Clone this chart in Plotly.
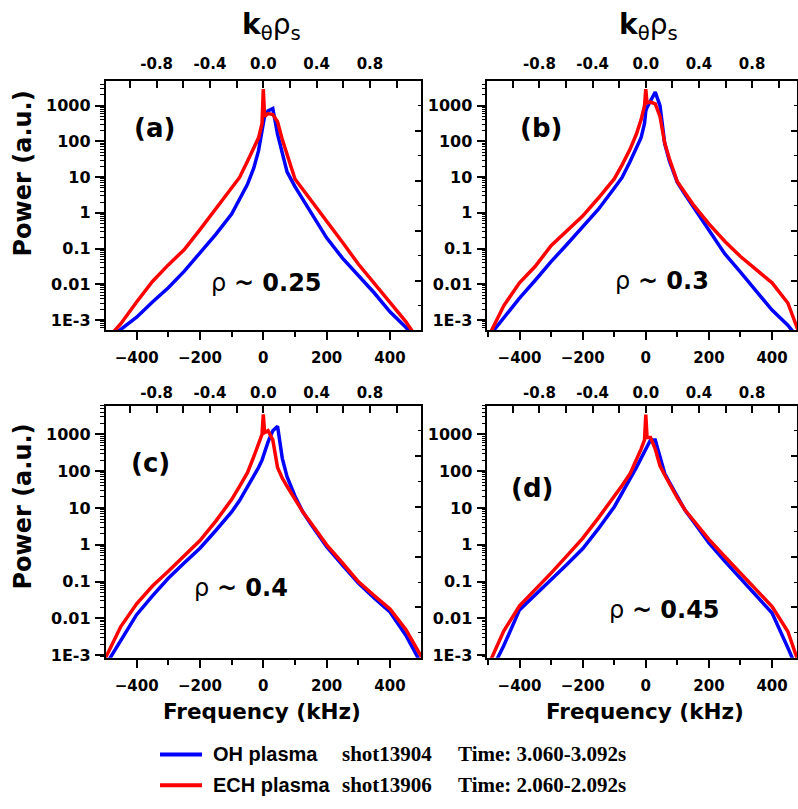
import plotly.graph_objects as go

# ---------------------------------------------------------------- data
FREQ_KHZ = [-500, -450, -400, -350, -300, -250, -200, -150, -100, -75, -50, -30, -15, -4, 0,
            4, 15, 30, 45, 60, 75, 100, 125, 150, 200, 250, 300, 350, 400, 450, 500]

# rho ~ 0.25
OH_A = [2.5e-4, 5.6e-4, 1.2e-3, 3.2e-3, 8.0e-3, 0.023, 0.075, 0.25, 0.93, 2.3, 6.3, 18, 55, 200, 350,
        500, 710, 830, 160, 42, 14, 5.4, 2.4, 1.1, 0.2, 0.054, 0.018, 5.8e-3, 1.7e-3, 6.3e-4, 2.0e-4]
ECH_A = [2.5e-4, 7.9e-4, 3.2e-3, 0.012, 0.035, 0.093, 0.34, 1.26, 4.9, 9.8, 28, 63, 126, 316, 2900,
         500, 600, 560, 355, 112, 45, 8.9, 4.5, 2.3, 0.58, 0.15, 0.037, 0.011, 3.2e-3, 9.1e-4, 2.0e-4]
# rho ~ 0.3
OH_B = [3.2e-4, 1.2e-3, 4.1e-3, 0.013, 0.043, 0.13, 0.4, 1.26, 4.9, 9.8, 27, 62, 126, 316, 710,
        890, 1400, 2400, 1000, 87, 28, 7.1, 3.2, 1.5, 0.32, 0.072, 0.022, 6.5e-3, 1.9e-3, 7.2e-4, 2.0e-4]
ECH_B = [3.2e-4, 2.5e-3, 0.011, 0.032, 0.12, 0.32, 0.81, 2.6, 8.9, 22, 60, 158, 400, 1000, 2900,
         1200, 1260, 1120, 500, 89, 32, 7.4, 3.5, 1.7, 0.49, 0.16, 0.06, 0.026, 0.011, 3.0e-3, 2.0e-4]
# rho ~ 0.4
OH_C = [5.0e-4, 2.5e-3, 0.0126, 0.041, 0.123, 0.32, 0.81, 2.45, 7.8, 16, 37, 74, 126, 200, 250,
        355, 630, 1260, 1660, 224, 71, 21, 7.8, 3.7, 0.89, 0.28, 0.091, 0.036, 0.015, 3.5e-3, 5.6e-4]
ECH_C = [7.9e-4, 6.0e-3, 0.025, 0.076, 0.19, 0.49, 1.3, 4.4, 17, 39, 91, 250, 560, 1000, 3500,
         1120, 1260, 710, 126, 65, 39, 17, 7.8, 4.0, 1.0, 0.32, 0.1, 0.042, 0.018, 5.0e-3, 8.9e-4]
# rho ~ 0.45
OH_D = [2.5e-4, 1.8e-3, 0.017, 0.043, 0.11, 0.29, 0.78, 2.75, 10.7, 25, 58, 126, 224, 355, 420,
        500, 710, 710, 224, 87, 50, 20, 8.5, 4.4, 1.12, 0.36, 0.12, 0.041, 0.014, 1.6e-3, 1.6e-4]
ECH_D = [5.0e-4, 4.5e-3, 0.022, 0.06, 0.17, 0.5, 1.5, 5.4, 20, 41, 85, 200, 400, 710, 3470,
         830, 830, 400, 141, 79, 45, 19, 8.7, 4.7, 1.41, 0.48, 0.17, 0.059, 0.021, 4.4e-3, 2.5e-4]

PANEL_TAGS = ["(a)", "(b)", "(c)", "(d)"]
RHO_VALUES = ["0.25", "0.3", "0.4", "0.45"]
FREQ_TICKS = [-400, -200, 0, 200, 400]
FREQ_MINOR = [-500, -300, -100, 100, 300, 500]
K_TICKS = [-0.8, -0.4, 0.0, 0.4, 0.8]
K_MINOR = [-1.0, -0.6, -0.2, 0.2, 0.6, 1.0]
POWER_TICKS = [1e-3, 0.01, 0.1, 1, 10, 100, 1000]
POWER_TICK_TEXT = ["1E-3", "0.01", "0.1", "1", "10", "100", "1000"]
KHZ_PER_K = 421.0  # frequency (kHz) corresponding to k_theta*rho_s = 1
LEGEND_ROWS = [
    ("OH plasma", "shot13904", "Time: 3.060-3.092s", "#0000FF"),
    ("ECH plasma", "shot13906", "Time: 2.060-2.092s", "#FF0000"),
]

OH_SERIES = [OH_A, OH_B, OH_C, OH_D]
ECH_SERIES = [ECH_A, ECH_B, ECH_C, ECH_D]

# ---------------------------------------------------------------- layout geometry (pixels)
W, H = 798, 809
PANELS = [
    dict(x0=105.6, x1=421.0, y0=81.7, y1=333.3, xr=[-498, 498], yr=[-3.29, 3.69],
         tag=(154, 129), rho=(266, 285), top_pad=4),
    dict(x0=487.3, x1=797.0, y0=81.7, y1=333.3, xr=[-502, 479], yr=[-3.29, 3.69],
         tag=(541, 129), rho=(662, 283), top_pad=4),
    dict(x0=105.6, x1=421.0, y0=409.3, y1=663.5, xr=[-498, 498], yr=[-3.07, 3.78],
         tag=(150, 467), rho=(241, 593), top_pad=0),
    dict(x0=487.3, x1=797.0, y0=409.3, y1=663.5, xr=[-502, 479], yr=[-3.07, 3.78],
         tag=(532, 492), rho=(664, 615), top_pad=0),
]


def px(x):
    return x / W


def py(y):
    return 1 - y / H


XTICKFONT = dict(family="DejaVu Sans", color="black", weight="bold", size=15)
YTICKFONT = dict(family="DejaVu Sans", color="black", weight="bold", size=16)
LINE_W = 1.6

minor_power = [m * 10.0 ** d for d in range(-4, 4) for m in range(2, 10)]

fig = go.Figure()
layout = {}
for i, p in enumerate(PANELS):
    n = i + 1
    sx = "" if n == 1 else str(n)
    # spectra
    fig.add_trace(go.Scatter(x=FREQ_KHZ, y=OH_SERIES[i], mode="lines",
                             line=dict(color="#0000FF", width=3.5),
                             xaxis=f"x{n}", yaxis=f"y{n}", showlegend=False))
    fig.add_trace(go.Scatter(x=FREQ_KHZ, y=ECH_SERIES[i], mode="lines",
                             line=dict(color="#FF0000", width=3.5),
                             xaxis=f"x{n}", yaxis=f"y{n}", showlegend=False))
    # empty traces that attach the top (k_theta rho_s) and right frame axes
    fig.add_trace(go.Scatter(x=[], y=[], xaxis=f"x{n + 4}", yaxis=f"y{n}",
                             showlegend=False, hoverinfo="skip"))
    fig.add_trace(go.Scatter(x=[], y=[], xaxis=f"x{n}", yaxis=f"y{n + 4}",
                             showlegend=False, hoverinfo="skip"))

    layout[f"xaxis{sx}"] = dict(
        domain=[px(p["x0"]), px(p["x1"])], range=p["xr"], anchor=f"y{n}",
        tickmode="array", tickvals=FREQ_TICKS, ticks="outside", ticklen=8, tickwidth=1.5,
        tickcolor="black", showline=True, linewidth=LINE_W, linecolor="black",
        showgrid=False, zeroline=False, tickfont=XTICKFONT, ticklabelstandoff=5,
        minor=dict(tickmode="array", tickvals=FREQ_MINOR, ticks="outside", ticklen=5,
                   tickwidth=1.5, tickcolor="black", showgrid=False),
    )
    layout[f"yaxis{sx}"] = dict(
        domain=[py(p["y1"]), py(p["y0"])], type="log", range=p["yr"], anchor=f"x{n}",
        tickmode="array", tickvals=POWER_TICKS, ticktext=POWER_TICK_TEXT,
        ticks="outside", ticklen=9, tickwidth=1.5, tickcolor="black",
        showline=True, linewidth=LINE_W, linecolor="black", showgrid=False, zeroline=False,
        tickfont=YTICKFONT, ticklabelstandoff=1,
        minor=dict(tickmode="array", tickvals=minor_power, ticks="outside", ticklen=4,
                   tickwidth=1, tickcolor="black", showgrid=False),
    )
    layout[f"xaxis{n + 4}"] = dict(
        overlaying=f"x{n}", side="top", anchor=f"y{n}",
        range=[p["xr"][0] / KHZ_PER_K, p["xr"][1] / KHZ_PER_K],
        tickmode="array", tickvals=K_TICKS, ticktext=[f"{v:.1f}" for v in K_TICKS],
        ticks="inside", ticklen=7, tickwidth=1.5, tickcolor="black",
        showline=True, linewidth=LINE_W, linecolor="black", showgrid=False, zeroline=False,
        tickfont=XTICKFONT, ticklabelstandoff=p["top_pad"],
        minor=dict(tickmode="array", tickvals=K_MINOR, ticks="inside", ticklen=7,
                   tickwidth=1.5, tickcolor="black", showgrid=False),
    )
    layout[f"yaxis{n + 4}"] = dict(
        overlaying=f"y{n}", side="right", anchor=f"x{n}", range=[0, 10],
        tickmode="array", tickvals=[2, 4, 6, 8], ticks="inside", ticklen=6, tickwidth=1.5,
        tickcolor="black", showticklabels=False, showline=True, linewidth=LINE_W,
        linecolor="black", showgrid=False, zeroline=False,
        minor=dict(tickmode="array", tickvals=[1, 3, 5, 7, 9], ticks="inside", ticklen=3,
                   tickwidth=1.2, tickcolor="black", showgrid=False),
    )

annotations = []


def label(text, x, y, size, family="DejaVu Sans", weight="bold", angle=0, xanchor="center"):
    annotations.append(dict(
        text=text, x=px(x), y=py(y), xref="paper", yref="paper", showarrow=False,
        xanchor=xanchor, yanchor="middle", textangle=angle,
        font=dict(family=family, size=size, color="black", weight=weight),
    ))


for i, p in enumerate(PANELS):
    label(PANEL_TAGS[i], p["tag"][0], p["tag"][1], 26)
    label(f"ρ <b>~ {RHO_VALUES[i]}</b>", p["rho"][0], p["rho"][1], 24, weight="normal")

# axis titles
for y in (175, 511):
    label("Power (a.u.)", 23, y, 24, angle=-90)
for x in (262, 645):
    label("Frequency (kHz)", x, 718, 21.5)
for x in (271, 648):
    label("<b>k</b><sub>θ</sub>ρ<sub>s</sub>", x, 27, 28, weight="normal")

# legend
shapes = []
for r, (name, shot, period, color) in enumerate(LEGEND_ROWS):
    yy = 761 + r * 31
    shapes.append(dict(type="line", xref="paper", yref="paper", x0=px(160), x1=px(202),
                       y0=py(yy), y1=py(yy), line=dict(color=color, width=4)))
    label(name, 211, yy, 20, family="Liberation Sans", xanchor="left")
    label(shot, 340, yy, 21, family="Liberation Serif", xanchor="left")
    label(period, 456, yy, 21, family="Liberation Serif", xanchor="left")

fig.update_layout(
    width=W, height=H, margin=dict(l=0, r=0, t=0, b=0),
    paper_bgcolor="white", plot_bgcolor="white", showlegend=False,
    annotations=annotations, shapes=shapes, **layout,
)

fig.write_html("out.html", config={"displayModeBar": False})
